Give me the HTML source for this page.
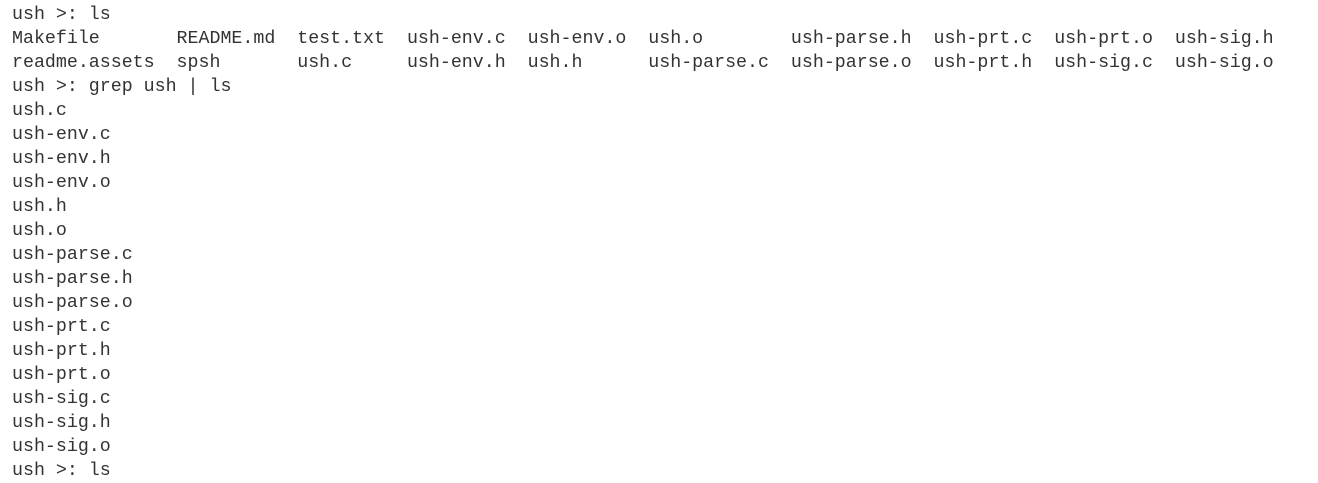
<!DOCTYPE html>
<html><head><meta charset="utf-8"><style>
html,body{margin:0;padding:0;background:#fff;width:1318px;height:462px;overflow:hidden}
pre{position:absolute;left:12px;top:3px;margin:0;font-family:"Liberation Mono",monospace;font-size:18.3px;line-height:24px;color:#333}
</style></head><body>
<pre>ush &gt;: ls
Makefile       README.md  test.txt  ush-env.c  ush-env.o  ush.o        ush-parse.h  ush-prt.c  ush-prt.o  ush-sig.h
readme.assets  spsh       ush.c     ush-env.h  ush.h      ush-parse.c  ush-parse.o  ush-prt.h  ush-sig.c  ush-sig.o
ush &gt;: grep ush | ls
ush.c
ush-env.c
ush-env.h
ush-env.o
ush.h
ush.o
ush-parse.c
ush-parse.h
ush-parse.o
ush-prt.c
ush-prt.h
ush-prt.o
ush-sig.c
ush-sig.h
ush-sig.o
ush &gt;: ls</pre>
</body></html>
